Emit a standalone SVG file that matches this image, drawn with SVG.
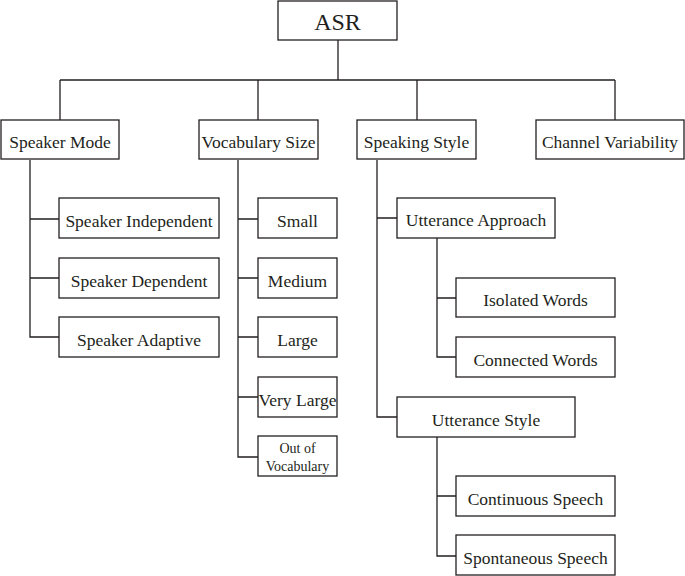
<svg xmlns="http://www.w3.org/2000/svg" width="685" height="576" viewBox="0 0 685 576">
<style>
rect{fill:#fff;stroke:#231f20;stroke-width:1.3}
text{font-family:"Liberation Serif","Times New Roman",serif;font-size:17.5px;fill:#231f20;text-anchor:middle}
.c path{fill:none;stroke:#231f20;stroke-width:1.3}
</style>
<rect x="0" y="0" width="685" height="576" style="fill:#fff;stroke:none"/>
<g class="c" id="connectors">
<path d="M338 40V80M60 80H615M60 80V120M258 80V120M417 80V120M615 80V120"/>
<path d="M30 160V337H59M30 219H59M30 278H59"/>
<path d="M238 160V457H258M238 219H258M238 278H258M238 337H258M238 397H258"/>
<path d="M377 160V417H397M377 218H397"/>
<path d="M437 238V357H456M437 298H456"/>
<path d="M437 437V556H456M437 496H456"/>
</g>
<g id="asr"><rect x="278" y="1" width="119" height="39"/><text x="337.5" y="29.5" style="font-size:24px">ASR</text></g>
<g id="speaker-mode"><rect x="1" y="120" width="118" height="39"/><text x="60" y="147.5">Speaker Mode</text></g>
<g id="vocabulary-size"><rect x="199" y="120" width="119" height="39"/><text x="258.5" y="147.5">Vocabulary Size</text></g>
<g id="speaking-style"><rect x="357" y="120" width="119" height="39"/><text x="416.5" y="147.5">Speaking Style</text></g>
<g id="channel-variability"><rect x="536" y="120" width="148" height="39"/><text x="610" y="147.5">Channel Variability</text></g>
<g id="speaker-independent"><rect x="59" y="198" width="160" height="40"/><text x="139" y="227">Speaker Independent</text></g>
<g id="speaker-dependent"><rect x="59" y="258" width="160" height="40"/><text x="139" y="287">Speaker Dependent</text></g>
<g id="speaker-adaptive"><rect x="59" y="317" width="160" height="40"/><text x="139" y="346">Speaker Adaptive</text></g>
<g id="small"><rect x="258" y="198" width="79" height="40"/><text x="297.5" y="227">Small</text></g>
<g id="medium"><rect x="258" y="258" width="79" height="40"/><text x="297.5" y="287">Medium</text></g>
<g id="large"><rect x="258" y="317" width="79" height="40"/><text x="297.5" y="346">Large</text></g>
<g id="very-large"><rect x="258" y="377" width="79" height="40"/><text x="297.5" y="406">Very Large</text></g>
<g id="out-of-vocabulary"><rect x="258" y="436" width="79" height="40"/><text x="297.5" y="453" style="font-size:14px">Out of</text><text x="297.5" y="471" style="font-size:14px">Vocabulary</text></g>
<g id="utterance-approach"><rect x="397" y="198" width="158" height="40"/><text x="476" y="226">Utterance Approach</text></g>
<g id="isolated-words"><rect x="456" y="278" width="159" height="39"/><text x="535.5" y="306">Isolated Words</text></g>
<g id="connected-words"><rect x="456" y="337" width="159" height="40"/><text x="535.5" y="366">Connected Words</text></g>
<g id="utterance-style"><rect x="397" y="397" width="178" height="40"/><text x="486" y="425.5">Utterance Style</text></g>
<g id="continuous-speech"><rect x="456" y="476" width="159" height="40"/><text x="535.5" y="505">Continuous Speech</text></g>
<g id="spontaneous-speech"><rect x="456" y="535" width="159" height="40"/><text x="535.5" y="564">Spontaneous Speech</text></g>
</svg>
